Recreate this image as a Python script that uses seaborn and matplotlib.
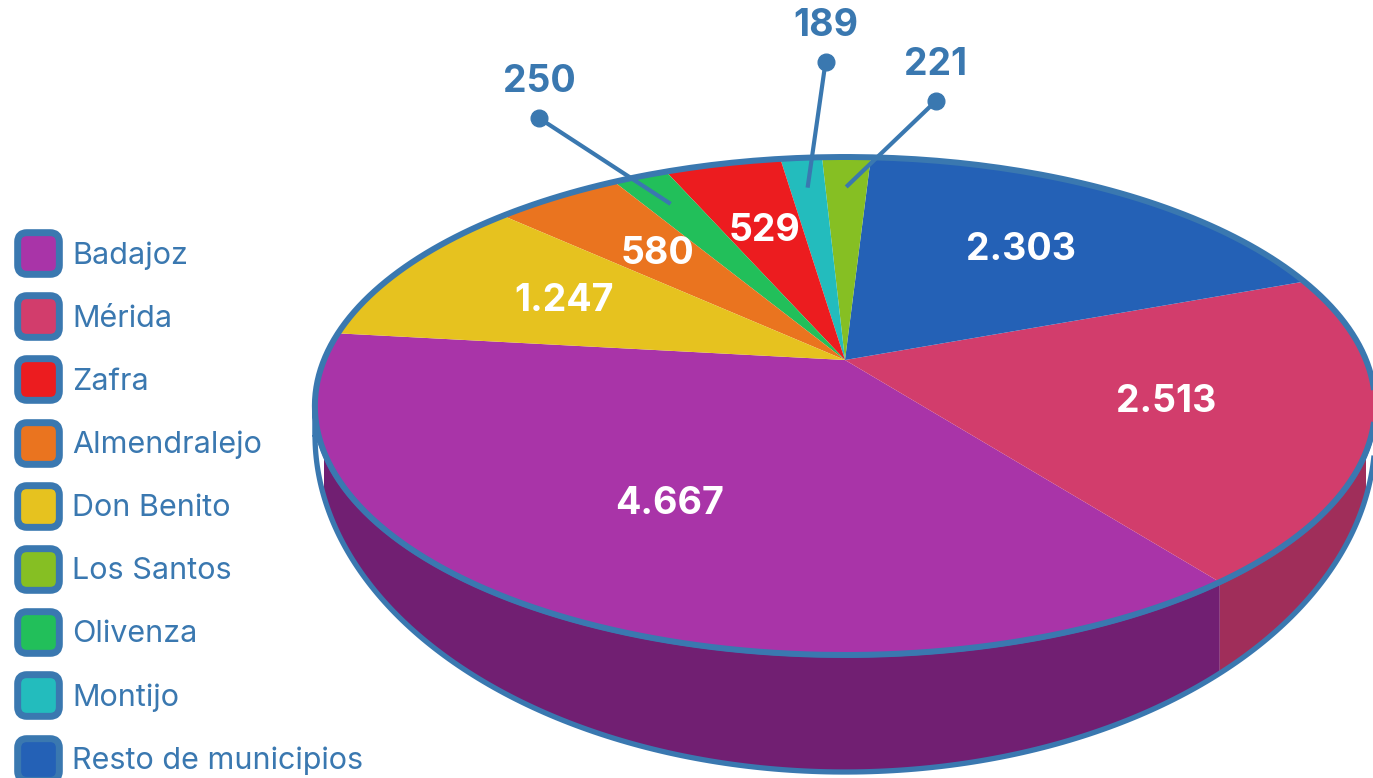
import numpy as np
import matplotlib
matplotlib.use("Agg")
import matplotlib.pyplot as plt
import matplotlib.transforms as mtransforms
from matplotlib.path import Path
from matplotlib.patches import Circle, Polygon, BoxStyle
from matplotlib.lines import Line2D
from matplotlib.markers import MarkerStyle
import seaborn as sns

# ---------------- data ----------------
municipios = ["Badajoz", "Mérida", "Zafra", "Almendralejo", "Don Benito",
              "Los Santos", "Olivenza", "Montijo", "Resto de municipios"]
valores = [4667, 2513, 529, 580, 1247, 221, 250, 189, 2303]
etiquetas = ["4.667", "2.513", "529", "580", "1.247", "221", "250", "189", "2.303"]
colores = ["#a934a8", "#d23d6c", "#ec1c1f", "#ea741f", "#e6c21f",
           "#86bf23", "#22bf5a", "#23bcbd", "#2461b6"]
colores_lateral = ["#711f72", "#a02e5a", "#a51416", "#a45115", "#a18815",
                   "#5e8618", "#18863f", "#188484", "#19447f"]
orden_pie = ["Badajoz", "Mérida", "Resto de municipios", "Los Santos", "Montijo",
             "Zafra", "Olivenza", "Almendralejo", "Don Benito"]
externos = ["Los Santos", "Montijo", "Olivenza"]

AZUL = "#3a78b0"

sns.set_theme(style="white")
plt.rcParams["font.family"] = ["Inter", "DejaVu Sans"]

W, H = 1373, 778
fig = plt.figure(figsize=(W / 100, H / 100), dpi=100)
ax = fig.add_axes([0, 0, 1, 1])


class Perspectiva(mtransforms.Transform):
    """Projects the unit pie disc onto a tilted, perspective ellipse."""
    input_dims = 2
    output_dims = 2
    is_separable = False
    has_inverse = False

    def __init__(self, cx, cy, a, b, k):
        super().__init__()
        self.cx, self.cy, self.a, self.b, self.k = cx, cy, a, b, k

    def transform_non_affine(self, xy):
        xy = np.asarray(xy, dtype=float)
        u = xy[..., 0]
        v = xy[..., 1]
        d = 1 + self.k * v
        return np.stack([self.cx + self.a * u / d, self.cy + self.b * v / d], axis=-1)

    def transform_path_non_affine(self, path):
        big = mtransforms.Affine2D().scale(1000).transform_path(path)
        polys = big.to_polygons(closed_only=False)
        paths = [Path(self.transform_non_affine(np.asarray(p) / 1000.0)) for p in polys]
        if len(paths) == 1:
            return paths[0]
        return Path.make_compound_path(*paths)


K = 0.1847
persp = Perspectiva(845, 418, 521, 240.5, K)
T = persp + ax.transData

# bottom rim ellipse (side depth)
CXB, CYB, AB, BB = 845, 343, 530, 337

idx = [municipios.index(m) for m in orden_pie]
vals = [valores[i] for i in idx]
cols = [colores[i] for i in idx]

wedges, _ = ax.pie(vals, colors=cols, startangle=173.5, counterclock=True,
                   wedgeprops=dict(linewidth=0))
for w in wedges:
    w.set_transform(T)
    w.set_zorder(2)


def bottom_y(X, Yt):
    r = np.clip(1 - ((X - CXB) / AB) ** 2, 0, 1)
    yb = CYB - BB * np.sqrt(r)
    return np.minimum(yb, Yt)


def side_points(t1, t2):
    th = np.radians(np.linspace(t1, t2, 240))
    top = persp.transform_non_affine(np.column_stack([np.cos(th), np.sin(th)]))
    yb = bottom_y(top[:, 0], top[:, 1])
    bot = np.column_stack([top[:, 0], yb])
    return np.vstack([top, bot[::-1]])


# side faces
for w, name in zip(wedges, orden_pie):
    t1, t2 = w.theta1, w.theta2
    for k in (-1, 0, 1):
        lo = max(t1, 180 + 360 * k)
        hi = min(t2, 360 + 360 * k)
        if hi > lo:
            ax.add_patch(Polygon(side_points(lo, hi), closed=True, lw=0,
                                 facecolor=colores_lateral[municipios.index(name)],
                                 zorder=1))

# silhouette outline of the side (between the two horizontal extremes)
ext = np.degrees(np.arcsin(K))
ax.add_patch(Polygon(side_points(180 + ext, 360 - ext), closed=True, fill=False,
                     edgecolor=AZUL, lw=3.8, joinstyle="round", zorder=1.5))
# top rim outline
rim = Circle((0, 0), 1, fill=False, edgecolor=AZUL, lw=4.3, zorder=3)
rim.set_transform(T)
ax.add_patch(rim)

# labels
callout = {"Olivenza": (1.43, 3), "Montijo": (1.61, -4), "Los Santos": (1.36, -9)}
for w, name in zip(wedges, orden_pie):
    mid = np.radians((w.theta1 + w.theta2) / 2)
    lab = etiquetas[municipios.index(name)]
    if name in externos:
        r_out, off = callout[name]
        ang = mid + np.radians(off)
        xo, yo = r_out * np.cos(ang), r_out * np.sin(ang)
        ax.plot([0.83 * np.cos(mid), xo], [0.83 * np.sin(mid), yo],
                color=AZUL, lw=3.0, solid_capstyle="butt", transform=T, zorder=4)
        ax.plot([xo], [yo], "o", color=AZUL, ms=12, transform=T, zorder=4)
        ax.annotate(lab, xy=(xo, yo), xycoords=T, xytext=(0, 26),
                    textcoords="offset points", ha="center", va="center",
                    fontsize=27, fontweight="bold", color=AZUL, zorder=5)
    else:
        ax.text(0.62 * np.cos(mid), 0.62 * np.sin(mid), lab, transform=T,
                ha="center", va="center", fontsize=27, fontweight="bold",
                color="white", zorder=5)

# legend with rounded-square markers
rsq = BoxStyle.Round(pad=0, rounding_size=0.22)(-0.5, -0.5, 1, 1, 1.0)
handles = [Line2D([], [], linestyle="none",
                  marker=MarkerStyle(rsq), markersize=30,
                  markerfacecolor=c, markeredgecolor=AZUL, markeredgewidth=5)
           for c in colores]
leg = ax.legend(handles, municipios, loc="upper left",
                bbox_to_anchor=(16.5 / W, 1 - 241.5 / H), frameon=False,
                fontsize=22, labelcolor=AZUL, handlelength=1.4,
                handletextpad=0.42, labelspacing=1.145, borderpad=0,
                borderaxespad=0)

ax.set_xlim(0, W)
ax.set_ylim(0, H)
ax.set_aspect("auto")
ax.axis("off")

fig.savefig("out.png", dpi=100, facecolor="white")
